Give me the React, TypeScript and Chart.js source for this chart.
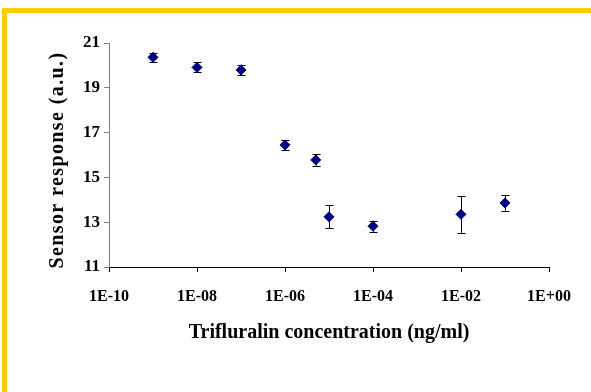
import React, { useEffect, useRef } from "react";
import { Chart, registerables } from "chart.js";

Chart.register(...registerables);

const concentrations = [1e-9, 1e-8, 1e-7, 1e-6, 5e-6, 1e-5, 1e-4, 1e-2, 1e-1];
const responses = [20.36, 19.91, 19.8, 16.45, 15.78, 13.24, 12.82, 13.35, 13.86];
const errors = [0.21, 0.22, 0.24, 0.22, 0.26, 0.52, 0.25, 0.82, 0.34];
const xTicks = [1e-10, 1e-8, 1e-6, 1e-4, 1e-2, 1];
const yTicks = [11, 13, 15, 17, 19, 21];

const FONT = "'Liberation Serif', 'Times New Roman', serif";

function fmtExp(v: number): string {
  const e = Math.round(Math.log10(v));
  const sign = e < 0 ? "-" : "+";
  const a = Math.abs(e);
  return "1E" + sign + (a < 10 ? "0" + a : String(a));
}

const errorBarPlugin = {
  id: "errorBars",
  beforeDatasetsDraw(chart: any) {
    const ctx = chart.ctx;
    const xs = chart.scales.x;
    const ys = chart.scales.y;
    ctx.save();
    ctx.strokeStyle = "#000000";
    ctx.lineWidth = 1;
    for (let i = 0; i < concentrations.length; i++) {
      const px = Math.round(xs.getPixelForValue(concentrations[i])) + 0.5;
      const top = ys.getPixelForValue(responses[i] + errors[i]);
      const bot = ys.getPixelForValue(responses[i] - errors[i]);
      ctx.beginPath();
      ctx.moveTo(px, top);
      ctx.lineTo(px, bot);
      ctx.moveTo(px - 4, Math.round(top) + 0.5);
      ctx.lineTo(px + 4, Math.round(top) + 0.5);
      ctx.moveTo(px - 4, Math.round(bot) + 0.5);
      ctx.lineTo(px + 4, Math.round(bot) + 0.5);
      ctx.stroke();
    }
    ctx.restore();
  },
};

// widen the y-axis title slightly (letter spacing), like the original rendering
const titleSpacingPlugin = {
  id: "titleSpacing",
  afterLayout(chart: any) {
    const s = chart.scales.y;
    if (!s || s.__wrapped) return;
    const orig = s.drawTitle.bind(s);
    s.drawTitle = function () {
      const ctx = chart.ctx;
      ctx.save();
      ctx.letterSpacing = "1.4px";
      ctx.translate(0, 5);
      orig();
      ctx.restore();
    };
    s.__wrapped = true;
  },
};

export default function App() {
  const ref = useRef<HTMLCanvasElement | null>(null);
  useEffect(() => {
    if (!ref.current) return;
    const chart = new Chart(ref.current, {
      type: "scatter",
      data: {
        datasets: [
          {
            data: concentrations.map((c, i) => ({ x: c, y: responses[i] })),
            pointStyle: "rectRot",
            pointRadius: 5,
            backgroundColor: "#000080",
            borderColor: "#000080",
            borderWidth: 1,
          },
        ],
      },
      options: {
        animation: false,
        responsive: false,
        layout: { padding: { left: 0, top: 30, right: 42, bottom: 0 } },
        plugins: { legend: { display: false }, tooltip: { enabled: false } },
        scales: {
          x: {
            type: "logarithmic",
            min: 1e-10,
            max: 1,
            afterBuildTicks: (scale: any) => {
              scale.ticks = xTicks.map((v) => ({ value: v }));
            },
            afterFit: (scale: any) => {
              scale.height = 125;
            },
            grid: {
              drawOnChartArea: false,
              drawTicks: true,
              tickLength: 5,
              color: "#000000",
            },
            border: { color: "#000000", width: 1 },
            ticks: {
              autoSkip: false,
              maxRotation: 0,
              padding: 15,
              color: "#000000",
              font: { family: FONT, size: 16, weight: "bold" },
              callback: (v: any) => fmtExp(Number(v)),
            },
            title: {
              display: true,
              text: "Trifluralin concentration (ng/ml)",
              color: "#000000",
              font: { family: FONT, size: 20, weight: "bold" },
              padding: { top: 0, bottom: 47 },
            },
          },
          y: {
            min: 11,
            max: 21,
            afterBuildTicks: (scale: any) => {
              scale.ticks = yTicks.map((v) => ({ value: v }));
            },
            afterFit: (scale: any) => {
              scale.width = 102;
            },
            grid: {
              drawOnChartArea: false,
              drawTicks: true,
              tickLength: 5,
              color: "#808080",
            },
            border: { color: "#808080", width: 1 },
            ticks: {
              padding: 4,
              color: "#000000",
              font: { family: FONT, size: 17, weight: "bold" },
            },
            title: {
              display: true,
              text: "Sensor response (a.u.)",
              color: "#000000",
              font: { family: FONT, size: 20, weight: "bold" },
              padding: { top: 39, bottom: 0 },
            },
          },
        },
      },
      plugins: [errorBarPlugin, titleSpacingPlugin],
    } as any);
    return () => chart.destroy();
  }, []);

  return (
    <div
      style={{
        position: "fixed",
        left: 2,
        top: 8,
        width: 589,
        height: 384,
        boxSizing: "border-box",
        borderTop: "5px solid #FFCC00",
        borderLeft: "5px solid #FFCC00",
        background: "#FFFFFF",
      }}
    >
      <canvas ref={ref} width={584} height={379} style={{ display: "block" }} />
    </div>
  );
}
